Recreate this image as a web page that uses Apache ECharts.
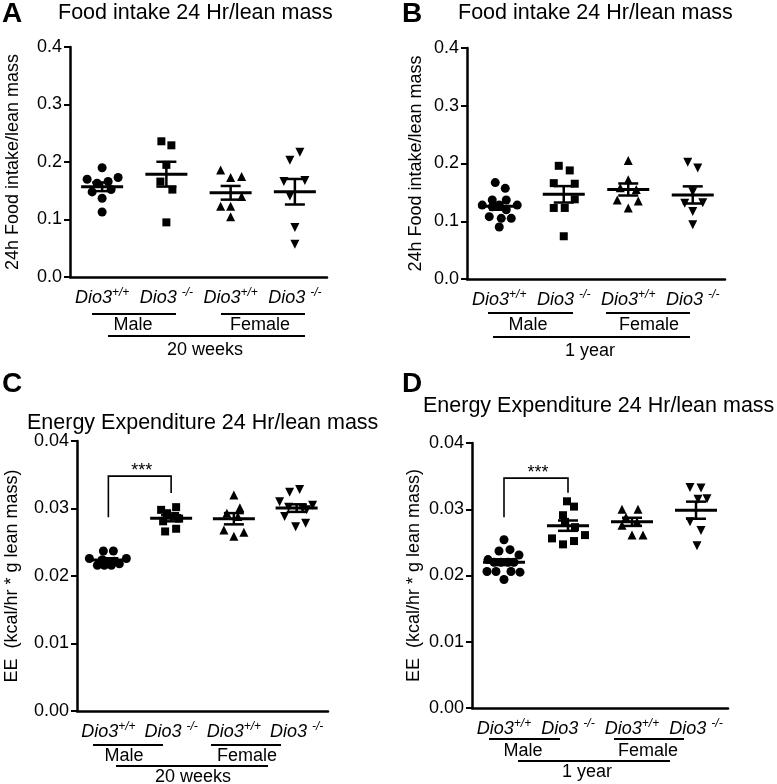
<!DOCTYPE html>
<html><head><meta charset="utf-8">
<script src="https://cdn.jsdelivr.net/npm/echarts@6/dist/echarts.min.js"></script>
<style>html,body{margin:0;padding:0;background:#fff}#c{width:777px;height:784px}</style>
</head><body><div id="c"></div>
<script>
// ---------- data ----------
const categories = ['Dio3', 'Dio3', 'Dio3', 'Dio3'];
const genotypes = ['+/+', '-/-', '+/+', '-/-'];
const sexLabels = ['Male', 'Female'];
const ageLabels = ['20 weeks', '1 year'];
const panelLetters = ['A', 'B', 'C', 'D'];
const panelTitles = ['Food intake 24 Hr/lean mass', 'Food intake 24 Hr/lean mass',
  'Energy Expenditure 24 Hr/lean mass', 'Energy Expenditure 24 Hr/lean mass'];
const yNames = ['24h Food intake/lean mass', '24h Food intake/lean mass',
  'EE  (kcal/hr * g lean mass)', 'EE  (kcal/hr * g lean mass)'];
const yTicksFood = [0, 0.1, 0.2, 0.3, 0.4];
const yTicksEE = [0, 0.01, 0.02, 0.03, 0.04];
const significance = '***';

// Panel A: food intake, 20 weeks
const aWtMale = [0.190, 0.170, 0.173, 0.166, 0.163, 0.148, 0.152, 0.137, 0.113];
const aKoMale = [0.236, 0.229, 0.195, 0.166, 0.152, 0.095];
const aWtFemale = [0.186, 0.173, 0.175, 0.140, 0.123, 0.123, 0.105];
const aKoFemale = [0.217, 0.203, 0.166, 0.168, 0.141, 0.086, 0.057];
// Panel B: food intake, 1 year
const bWtMale = [0.167, 0.157, 0.137, 0.137, 0.128, 0.128, 0.128, 0.125, 0.120, 0.108, 0.105, 0.105, 0.090];
const bKoMale = [0.196, 0.188, 0.166, 0.165, 0.138, 0.123, 0.123, 0.074];
const bWtFemale = [0.205, 0.172, 0.158, 0.155, 0.137, 0.135, 0.123];
const bKoFemale = [0.202, 0.192, 0.151, 0.131, 0.132, 0.117, 0.094];
// Panel C: energy expenditure, 20 weeks
const cWtMale = [0.0237, 0.0237, 0.0226, 0.0226, 0.0224, 0.0222, 0.0216, 0.0216, 0.0216, 0.0218];
const cKoMale = [0.0302, 0.0298, 0.0293, 0.0289, 0.0285, 0.0281, 0.0270, 0.0266];
const cWtFemale = [0.0320, 0.0301, 0.0293, 0.0288, 0.0268, 0.0265, 0.0259];
const cKoFemale = [0.0324, 0.0328, 0.0310, 0.0305, 0.0302, 0.0300, 0.0298, 0.0288, 0.0273, 0.0278];
// Panel D: energy expenditure, 1 year
const dWtMale = [0.0254, 0.0237, 0.0239, 0.0224, 0.0231, 0.0220, 0.0220, 0.0220, 0.0220, 0.0206, 0.0206, 0.0206, 0.0205, 0.0194];
const dKoMale = [0.0312, 0.0304, 0.0291, 0.0281, 0.0273, 0.0256, 0.0247, 0.0252, 0.0261];
const dWtFemale = [0.0300, 0.0300, 0.0288, 0.0281, 0.0276, 0.0261, 0.0261];
const dKoFemale = [0.0333, 0.0332, 0.0316, 0.0315, 0.0281, 0.0268, 0.0245];

// significance brackets (data units): [fromGroup, top, toGroup, leftFoot, rightFoot]
const bracketC = [0, 0.0348, 1, 0.0287, 0.0323];
const bracketD = [0, 0.0347, 1, 0.0288, 0.0325];

// ---------- layout / style (not data) ----------
const jitter = {
  a: [[0,-15,16,6,-5,-10,9,0,0],[-5,5,0,-6,6,0],[-10,0,11,11,-10,0,0],[5,-5,-11,10,-5,0,0]],
  b: [[-4,6,-7,7,-17,18,0,-7,7,-10,2,12,0],[-5,6,-10,11,11,-10,1,0],[0,0,-8,8,-11,10,0],[-5,5,0,-8,10,0,0]],
  c: [[-5,5,-19,18,-6,6,-11,-4,3,11],[5,-10,-4,4,8,-8,5,-6],[0,6,-7,4,-10,10,0],[-7,3,-17,16,-8,6,10,-12,-1,9]],
  d: [[0,-5,6,-16,15,-10,-3,4,10,-17,-8,7,16,0],[-1,6,-5,-3,7,-16,-5,6,17],[-10,6,-6,5,-10,0,11],[-6,5,11,2,-6,5,1]]
};
const FONT = 'Liberation Sans';
const symbols = ['circle', 'rect', 'triangle', 'triangle'];
const symbolRot = [0, 0, 0, 180];
const symbolSizes = [9, 8, 9, 9];

const panels = [
  {grid:{left:70,top:47,width:257,height:230}, ticks:yTicksFood, dec:1, nameGap:48,
   groups:[aWtMale,aKoMale,aWtFemale,aKoFemale], jit:jitter.a, bracket:null},
  {grid:{left:467,top:48,width:258,height:231}, ticks:yTicksFood, dec:1, nameGap:42,
   groups:[bWtMale,bKoMale,bWtFemale,bKoFemale], jit:jitter.b, bracket:null},
  {grid:{left:77,top:441,width:251,height:270}, ticks:yTicksEE, dec:2, nameGap:56,
   groups:[cWtMale,cKoMale,cWtFemale,cKoFemale], jit:jitter.c, bracket:bracketC},
  {grid:{left:472,top:443,width:256,height:265}, ticks:yTicksEE, dec:2, nameGap:49,
   groups:[dWtMale,dKoMale,dWtFemale,dKoFemale], jit:jitter.d, bracket:bracketD}
];

function meanSem(arr) {
  const n = arr.length;
  const m = arr.reduce((a, b) => a + b, 0) / n;
  const sd = Math.sqrt(arr.reduce((a, b) => a + (b - m) * (b - m), 0) / (n - 1));
  return [m, sd / Math.sqrt(n)];
}

const grids = [], xAxes = [], yAxes = [], series = [];
panels.forEach((p, pi) => {
  grids.push(Object.assign({containLabel:false}, p.grid));
  xAxes.push({
    type:'category', gridIndex:pi, data:categories, boundaryGap:true,
    axisLine:{lineStyle:{color:'#000', width:2.5}},
    axisTick:{alignWithLabel:true, length:6, lineStyle:{color:'#000', width:2}},
    axisLabel:{
      interval:0, margin:10, color:'#000',
      formatter:(v, i) => '{i|' + v + (genotypes[i] === '-/-' ? ' ' : '') + '}{s|' + genotypes[i] + '}',
      rich:{
        i:{fontFamily:FONT, fontStyle:'italic', fontSize:18, lineHeight:20, color:'#000', verticalAlign:'bottom'},
        s:{fontFamily:FONT, fontStyle:'italic', fontSize:12, lineHeight:12, color:'#000', verticalAlign:'top'}
      }
    },
    splitLine:{show:false}
  });
  const t = p.ticks;
  yAxes.push({
    type:'value', gridIndex:pi, min:t[0], max:t[t.length-1], interval:t[1]-t[0],
    name:yNames[pi], nameLocation:'middle', nameRotate:90, nameGap:p.nameGap,
    nameTextStyle:{fontFamily:FONT, fontSize:18, color:'#000'},
    axisLine:{show:true, lineStyle:{color:'#000', width:2.5}},
    axisTick:{show:true, length:6, lineStyle:{color:'#000', width:2}},
    axisLabel:{fontFamily:FONT, fontSize:18, color:'#000', margin:8, formatter:v => v.toFixed(p.dec)},
    splitLine:{show:false}
  });
  p.groups.forEach((vals, g) => {
    series.push({
      type:'scatter', xAxisIndex:pi, yAxisIndex:pi, symbol:symbols[g], symbolRotate:symbolRot[g],
      symbolSize:symbolSizes[g], itemStyle:{color:'#000', opacity:1}, z:2, silent:true,
      data: vals.map((v, k) => ({value:[g, v], symbolOffset:[p.jit[g][k] || 0, 0]}))
    });
  });
  const stats = p.groups.map(meanSem);
  series.push({
    type:'custom', xAxisIndex:pi, yAxisIndex:pi, z:5, silent:true,
    data: stats.map((s, g) => [g, s[0], s[1]]),
    renderItem:(params, api) => {
      const g = api.value(0), m = api.value(1), e = api.value(2);
      const c = api.coord([g, m]), hi = api.coord([g, m + e]), lo = api.coord([g, m - e]);
      const st = {stroke:'#000', lineWidth:2.5};
      return {type:'group', children:[
        {type:'line', shape:{x1:c[0]-21, y1:c[1], x2:c[0]+21, y2:c[1]}, style:{stroke:'#000', lineWidth:3}},
        {type:'line', shape:{x1:c[0], y1:hi[1], x2:c[0], y2:lo[1]}, style:st},
        {type:'line', shape:{x1:c[0]-10, y1:hi[1], x2:c[0]+10, y2:hi[1]}, style:st},
        {type:'line', shape:{x1:c[0]-10, y1:lo[1], x2:c[0]+10, y2:lo[1]}, style:st}
      ]};
    }
  });
  if (p.bracket) {
    series.push({
      type:'custom', xAxisIndex:pi, yAxisIndex:pi, z:6, silent:true,
      data:[p.bracket],
      renderItem:(params, api) => {
        const a = api.coord([api.value(0), api.value(1)]);
        const b = api.coord([api.value(2), api.value(1)]);
        const lf = api.coord([api.value(0), api.value(3)]);
        const rf = api.coord([api.value(2), api.value(4)]);
        return {type:'group', children:[
          {type:'polyline', shape:{points:[[lf[0], lf[1]], [a[0], a[1]], [b[0], b[1]], [rf[0], rf[1]]]},
           style:{stroke:'#000', lineWidth:1.6, fill:null}},
          {type:'text', x:(a[0]+b[0])/2 + 2, y:a[1] - 5,
           style:{text:significance, font:'18px ' + FONT, fill:'#000', align:'center', verticalAlign:'middle'}}
        ]};
      }
    });
  }
});

// ---------- annotations (layout) ----------
const graphic = [];
function txt(x, y, s, font, align) {
  graphic.push({type:'text', x:x, y:y, style:{text:s, font:font, fill:'#000', align:align || 'center', verticalAlign:'middle'}});
}
function ln(x1, y1, x2, y2) {
  graphic.push({type:'line', shape:{x1:x1, y1:y1, x2:x2, y2:y2}, style:{stroke:'#000', lineWidth:2}});
}
const letterFont = 'bold 28px ' + FONT, titleFont = '21.5px ' + FONT, annFont = '18px ' + FONT;
txt(2, 14, panelLetters[0], letterFont, 'left');
txt(402, 14, panelLetters[1], letterFont, 'left');
txt(2, 384, panelLetters[2], letterFont, 'left');
txt(402, 384, panelLetters[3], letterFont, 'left');
txt(58, 13, panelTitles[0], titleFont, 'left');
txt(458, 13, panelTitles[1], titleFont, 'left');
txt(27, 423, panelTitles[2], titleFont, 'left');
txt(423, 406, panelTitles[3], titleFont, 'left');
// panel A group labels
ln(92, 314, 176, 314); ln(221, 314, 305, 314); ln(108, 336, 305, 336);
txt(133, 325, sexLabels[0], annFont); txt(260, 325, sexLabels[1], annFont); txt(205, 350, ageLabels[0], annFont);
// panel B
ln(488, 313, 573, 313); ln(606, 313, 690, 313); ln(493, 337, 690, 337);
txt(528, 325, sexLabels[0], annFont); txt(649, 325, sexLabels[1], annFont); txt(590, 351, ageLabels[1], annFont);
// panel C
ln(93, 745, 163, 745); ln(211, 745, 281, 745); ln(116, 766, 268, 766);
txt(124, 756, sexLabels[0], annFont); txt(247, 756, sexLabels[1], annFont); txt(193, 777, ageLabels[0], annFont);
// panel D
ln(489, 739, 560, 739); ln(614, 739, 684, 739); ln(518, 761, 670, 761);
txt(523, 751, sexLabels[0], annFont); txt(648, 751, sexLabels[1], annFont); txt(587, 772, ageLabels[1], annFont);

const chart = echarts.init(document.getElementById('c'), null, {renderer:'canvas', width:777, height:784});
chart.setOption({
  animation:false, backgroundColor:'#fff',
  grid:grids, xAxis:xAxes, yAxis:yAxes, series:series, graphic:graphic
});
</script></body></html>
